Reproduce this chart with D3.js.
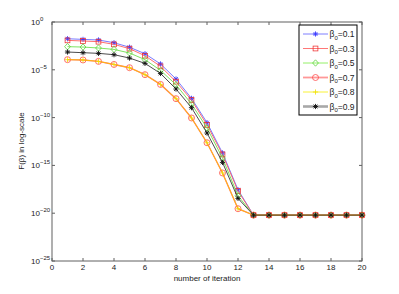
<!DOCTYPE html>
<html>
<head>
<meta charset="utf-8">
<script src="https://cdn.jsdelivr.net/npm/d3@7"></script>
<style>
  body { margin: 0; background: #fff; }
  text { font-family: "Liberation Sans", Arial, sans-serif; fill: #222; }
</style>
</head>
<body>
<div id="chart"></div>
<script>
// iterations and log10 of F(beta)
const iterations = d3.range(1, 21);
const tail = [-20.2, -20.2, -20.2, -20.2, -20.2, -20.2, -20.2, -20.2];
const logB01 = [-1.75, -1.82, -1.88, -2.17, -2.64, -3.32, -4.39, -5.96, -7.99, -10.53, -13.70, -17.54].concat(tail);
const logB03 = [-1.92, -1.99, -2.06, -2.34, -2.79, -3.53, -4.64, -6.24, -8.16, -10.77, -13.85, -17.68].concat(tail);
const logB05 = [-2.58, -2.62, -2.72, -2.87, -3.24, -3.94, -5.06, -6.56, -8.58, -11.09, -14.23, -18.17].concat(tail);
const logB07 = [-3.94, -3.97, -4.12, -4.44, -4.78, -5.51, -6.53, -8.02, -10.04, -12.63, -15.79, -19.53].concat(tail);
const logB08 = [-3.94, -3.97, -4.12, -4.44, -4.78, -5.51, -6.53, -8.02, -10.04, -12.63, -15.79, -19.53].concat(tail);
const logB09 = [-3.14, -3.21, -3.28, -3.42, -3.77, -4.33, -5.38, -7.01, -8.96, -11.61, -14.69, -18.45].concat(tail);
const seriesNames = ['0.1', '0.3', '0.5', '0.7', '0.8', '0.9'];
const xTicks = d3.range(0, 21, 2);
const yTickExps = [0, -5, -10, -15, -20, -25];

const series = [
    { name: seriesNames[0], vals: logB01, color: '#6a6aff', lw: 0.9, marker: 'star', mcolor: '#3a3aff' },
    { name: seriesNames[1], vals: logB03, color: '#ff6060', lw: 0.9, marker: 'square', mcolor: '#ee3030' },
    { name: seriesNames[2], vals: logB05, color: '#70e050', lw: 0.9, marker: 'diamond', mcolor: '#50d030' },
    { name: seriesNames[3], vals: logB07, color: '#ff7a7a', lw: 1.4, marker: 'circle', mcolor: '#ff4040' },
    { name: seriesNames[4], vals: logB08, color: '#ffc000', lw: 0.9, marker: 'plus', mcolor: '#f0e000' },
    { name: seriesNames[5], vals: logB09, color: '#383838', lw: 0.9, marker: 'star', mcolor: '#111' }
];

const W = 399, H = 294;
const m = { left: 52, right: 37, top: 22, bottom: 33 };

const svg = d3.select('#chart').append('svg')
    .attr('width', W)
    .attr('height', H);

const x = d3.scaleLinear().domain([0, 20]).range([m.left, W - m.right]);
const y = d3.scaleLog().domain([1e-25, 1]).range([H - m.bottom, m.top]);

const axisColor = '#606060';

// ticks (inside, all four sides)
const g = svg.append('g');
xTicks.forEach(t => {
    g.append('line').attr('x1', x(t)).attr('x2', x(t))
        .attr('y1', H - m.bottom).attr('y2', H - m.bottom - 3)
        .attr('stroke', axisColor);
    g.append('line').attr('x1', x(t)).attr('x2', x(t))
        .attr('y1', m.top).attr('y2', m.top + 3)
        .attr('stroke', axisColor);
    g.append('text')
        .attr('x', x(t)).attr('y', H - m.bottom + 9)
        .attr('text-anchor', 'middle')
        .attr('font-size', 8)
        .text(t);
});
yTickExps.forEach(e => {
    const yy = y(Math.pow(10, e));
    g.append('line').attr('x1', m.left).attr('x2', m.left + 3)
        .attr('y1', yy).attr('y2', yy).attr('stroke', axisColor);
    g.append('line').attr('x1', W - m.right).attr('x2', W - m.right - 3)
        .attr('y1', yy).attr('y2', yy).attr('stroke', axisColor);
    const lab = g.append('text')
        .attr('x', 31).attr('y', yy + 3)
        .attr('font-size', 8);
    lab.append('tspan').text('10');
    lab.append('tspan')
        .attr('dy', -4)
        .attr('font-size', 6)
        .text(e === 0 ? '0' : '\u2212' + (-e));
});

// axes box
svg.append('rect')
    .attr('x', m.left).attr('y', m.top)
    .attr('width', W - m.left - m.right)
    .attr('height', H - m.top - m.bottom)
    .attr('fill', 'none')
    .attr('stroke', axisColor)
    .attr('stroke-width', 1);

function drawMarker(sel, type, cx, cy, color) {
    const s = 2.6;
    if (type === 'circle') {
        sel.append('circle').attr('cx', cx).attr('cy', cy).attr('r', 3)
            .attr('fill', 'none').attr('stroke', color).attr('stroke-width', 0.75);
    } else if (type === 'square') {
        sel.append('rect').attr('x', cx - 2.4).attr('y', cy - 2.4)
            .attr('width', 4.8).attr('height', 4.8)
            .attr('fill', 'none').attr('stroke', color).attr('stroke-width', 0.75);
    } else if (type === 'diamond') {
        sel.append('path')
            .attr('d', `M${cx},${cy - 3.2}L${cx + 2.9},${cy}L${cx},${cy + 3.2}L${cx - 2.9},${cy}Z`)
            .attr('fill', 'none').attr('stroke', color).attr('stroke-width', 0.75);
    } else if (type === 'plus') {
        sel.append('path')
            .attr('d', `M${cx - s},${cy}H${cx + s}M${cx},${cy - s}V${cy + s}`)
            .attr('stroke', color).attr('stroke-width', 0.8);
    } else {
        const d = s * 0.72;
        sel.append('path')
            .attr('d', `M${cx - s},${cy}H${cx + s}M${cx},${cy - s}V${cy + s}` +
                `M${cx - d},${cy - d}L${cx + d},${cy + d}M${cx - d},${cy + d}L${cx + d},${cy - d}`)
            .attr('stroke', color).attr('stroke-width', 0.9);
    }
}

const line = d3.line()
    .x((d, i) => x(iterations[i]))
    .y(d => y(Math.pow(10, d)));

const plot = svg.append('g');
series.forEach(s => {
    plot.append('path')
        .datum(s.vals)
        .attr('d', line)
        .attr('fill', 'none')
        .attr('stroke', s.color)
        .attr('stroke-width', s.lw);
    const mg = plot.append('g');
    s.vals.forEach((v, i) => drawMarker(mg, s.marker, x(iterations[i]), y(Math.pow(10, v)), s.mcolor));
});

// legend
const lg = svg.append('g');
lg.append('rect')
    .attr('x', 299).attr('y', 25)
    .attr('width', 58).attr('height', 90)
    .attr('fill', '#fff')
    .attr('stroke', '#000')
    .attr('stroke-width', 1);
const legendLine = [
    { color: '#7070ff', lw: 0.9 },
    { color: '#ff6868', lw: 0.9 },
    { color: '#88ee58', lw: 0.9 },
    { color: '#ff9898', lw: 1.8 },
    { color: '#f8f020', lw: 0.9 },
    { color: '#a8a8a8', lw: 2.6 }
];
series.forEach((s, i) => {
    const ly = 34 + i * 14.5;
    lg.append('line')
        .attr('x1', 303).attr('x2', 328)
        .attr('y1', ly).attr('y2', ly)
        .attr('stroke', legendLine[i].color)
        .attr('stroke-width', legendLine[i].lw);
    drawMarker(lg, s.marker, 315.5, ly, s.mcolor);
    const t = lg.append('text')
        .attr('x', 329.5).attr('y', ly + 3)
        .attr('font-size', 8.5);
    t.append('tspan').text('\u03b2');
    t.append('tspan').attr('dy', 2.5).attr('font-size', 6).text('0');
    t.append('tspan').attr('dy', -2.5).text('=' + s.name);
});

// axis labels
svg.append('text')
    .attr('x', (m.left + W - m.right) / 2)
    .attr('y', 281)
    .attr('text-anchor', 'middle')
    .attr('font-size', 8)
    .text('number of iteration');

svg.append('text')
    .attr('transform', 'translate(24,141) rotate(-90)')
    .attr('text-anchor', 'middle')
    .attr('font-size', 8)
    .text('F(\u03b2) in log-scale');
</script>
</body>
</html>
